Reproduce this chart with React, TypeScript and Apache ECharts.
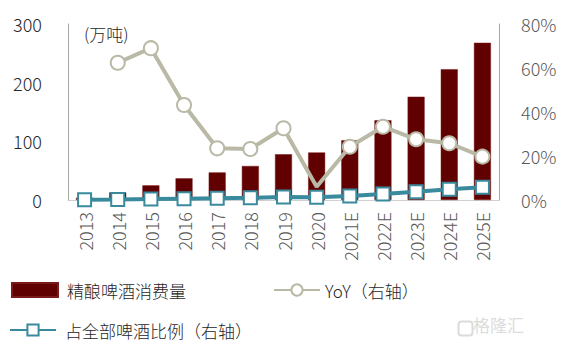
import React, { useEffect, useRef } from "react";
import * as echarts from "echarts";

const categories = ["2013", "2014", "2015", "2016", "2017", "2018", "2019", "2020", "2021E", "2022E", "2023E", "2024E", "2025E"];
const consumption = [4, 13, 25, 37, 47, 58, 78, 81, 102, 136, 176, 223, 268];
const yoy: (number | null)[] = [null, 62.4, 69, 43.2, 23.5, 23.2, 32.6, 6, 24.2, 33.3, 27.6, 25.8, 19.7];
const share = [0.1, 0.2, 0.4, 0.6, 0.8, 1.0, 1.4, 1.2, 1.8, 2.7, 3.8, 4.9, 5.8];
const leftTicks = { min: 0, max: 300, interval: 100 };
const rightTicks = { min: 0, max: 80, interval: 20 };

const FONT = "'Noto Sans CJK SC', 'Noto Sans', sans-serif";
const BAR = "#600000";
const YOY = "#b9b9a6";
const SHARE = "#3a8a9e";

export default function App() {
  const ref = useRef<HTMLDivElement>(null);
  useEffect(() => {
    if (!ref.current) return;
    const chart = echarts.init(ref.current, null, { renderer: "svg" });
    const legendText = { fontSize: 17, color: "#262626", fontFamily: FONT, fontWeight: 300, lineHeight: 18 };
    chart.setOption({
      animation: false,
      textStyle: { fontFamily: FONT },
      grid: { left: 68, right: 75, top: 24, bottom: 142, containLabel: false },
      xAxis: {
        type: "category",
        data: categories,
        axisLine: { lineStyle: { color: "#d0d0d0", width: 1 } },
        axisTick: { show: false },
        axisLabel: { rotate: 90, color: "#595959", fontSize: 18, margin: 12, fontFamily: FONT, fontWeight: 300, interval: 0 },
      },
      yAxis: [
        {
          type: "value",
          ...leftTicks,
          axisLine: { show: true, lineStyle: { color: "#a6a6a6" } },
          axisTick: { show: false },
          splitLine: { show: false },
          axisLabel: { color: "#262626", fontSize: 18, margin: 26, fontFamily: FONT, fontWeight: 300 },
        },
        {
          type: "value",
          ...rightTicks,
          position: "right",
          axisLine: { show: true, lineStyle: { color: "#a6a6a6" } },
          axisTick: { show: false },
          splitLine: { show: false },
          axisLabel: { color: "#595959", fontSize: 18, margin: 22, formatter: "{value}%", fontFamily: FONT, fontWeight: 300 },
        },
      ],
      legend: [
        {
          left: 11, top: 281, padding: 0,
          itemWidth: 46, itemHeight: 14,
          textStyle: { ...legendText, padding: [0, 0, 0, 4] },
          data: [{ name: "精酿啤酒消费量", icon: "rect" }],
        },
        {
          left: 273, top: 281, padding: 0,
          itemWidth: 46, itemHeight: 14,
          textStyle: legendText,
          data: ["YoY（右轴）"],
        },
        {
          left: 9, top: 321, padding: 0,
          itemWidth: 46, itemHeight: 14,
          textStyle: { ...legendText, padding: [0, 0, 0, 4] },
          data: ["占全部啤酒比例（右轴）"],
        },
      ],
      graphic: [
        { type: "text", left: 84, top: 25, style: { text: "(万吨)", fontSize: 17, fill: "#262626", fontFamily: FONT, fontWeight: 300 } },
        { type: "rect", left: 456, top: 319, shape: { width: 14, height: 14, r: 3 }, style: { fill: "none", stroke: "#dcdcdc", lineWidth: 2 } },
        { type: "text", left: 473, top: 316, style: { text: "格隆汇", fontSize: 17, fill: "#dcdcdc", fontFamily: FONT } },
      ],
      series: [
        {
          name: "精酿啤酒消费量",
          type: "bar",
          data: consumption,
          barWidth: 17,
          itemStyle: { color: BAR, borderColor: "#7a1a1a", borderWidth: 0.5 },
          z: 1,
        },
        {
          name: "YoY（右轴）",
          type: "line",
          yAxisIndex: 1,
          data: yoy.map((v, i) => (i === 7 ? { value: v, symbol: "none" } : v)),
          symbol: "circle",
          symbolSize: 14,
          lineStyle: { color: YOY, width: 4 },
          itemStyle: { color: "#ffffff", borderColor: YOY, borderWidth: 2 },
          z: 3,
        },
        {
          name: "占全部啤酒比例（右轴）",
          type: "line",
          yAxisIndex: 1,
          data: share,
          symbol: "rect",
          symbolSize: 13,
          lineStyle: { color: SHARE, width: 4 },
          itemStyle: { color: "#ffffff", borderColor: SHARE, borderWidth: 2 },
          z: 4,
        },
      ],
    });
    return () => chart.dispose();
  }, []);
  return <div ref={ref} style={{ width: 574, height: 342, position: "absolute", left: 0, top: 0 }} />;
}
